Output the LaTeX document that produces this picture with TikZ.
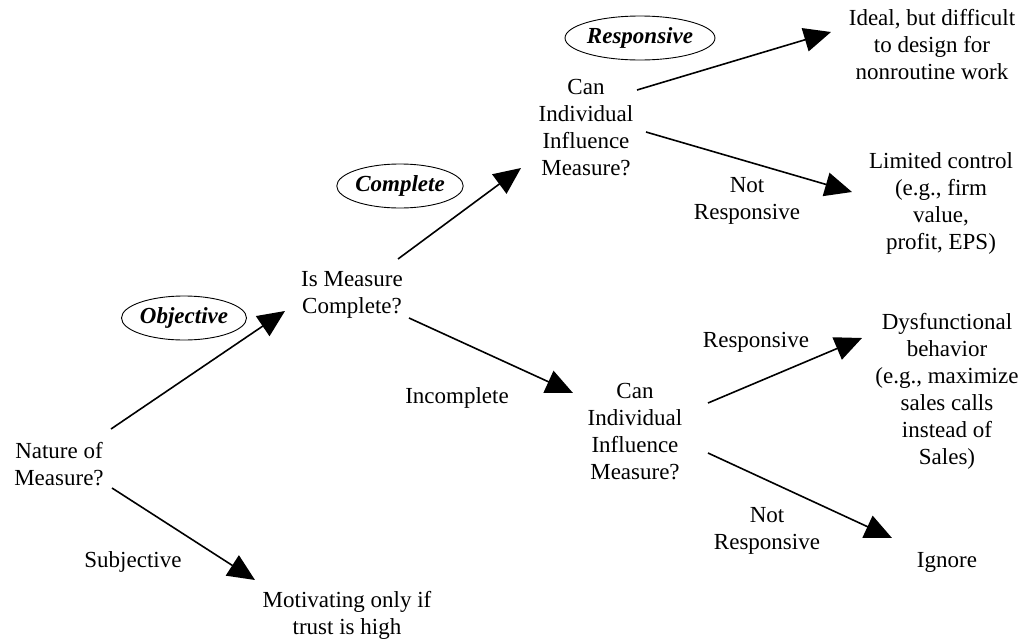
\documentclass[tikz,border=0pt]{standalone}
\usepackage{fontspec}
\setmainfont{Liberation Serif}
\usetikzlibrary{arrows.meta,shapes.geometric}
\begin{document}
\begin{tikzpicture}[x=1pt,y=-1pt,
  txt/.style={align=center, font=\fontsize{23}{27}\selectfont, inner sep=0pt},
  oval/.style={ellipse, draw, line width=0.9pt, inner sep=0pt, minimum height=44pt,
    font=\fontsize{23}{26}\selectfont\bfseries\itshape},
  arr/.style={line width=1.6pt, -{Triangle[length=27pt,width=24pt]}}]
\useasboundingbox[fill=white] (0,0) rectangle (1028,643);

% text nodes
\node[txt] (nature) at (59,464) {Nature of\\Measure?};
\node[txt] (subj) at (133,562) {Subjective};
\node[txt] (motiv) at (347,615) {Motivating only if\\trust is high};
\node[txt] (ismeas) at (352,295) {Is Measure\\Complete?};
\node[txt] (incompl) at (457,398) {Incomplete};
\node[txt] (can1) at (586,128) {Can\\Individual\\Influence\\Measure?};
\node[txt] (can2) at (635,432) {Can\\Individual\\Influence\\Measure?};
\node[txt] (ideal) at (932,45) {Ideal, but difficult\\to design for\\nonroutine work};
\node[txt] (limited) at (941,203) {Limited control\\(e.g., firm\\value,\\profit, EPS)};
\node[txt] (notresp1) at (747,201) {Not\\Responsive};
\node[txt] (resp2) at (756,342) {Responsive};
\node[txt] (dysf) at (947,391) {Dysfunctional\\behavior\\(e.g., maximize\\sales calls\\instead of\\Sales)};
\node[txt] (notresp2) at (767,531) {Not\\Responsive};
\node[txt] (ignore) at (947,562) {Ignore};

% ellipse labels
\node[oval, minimum width=134pt] (oresp) at (640,38) {Responsive};
\node[oval, minimum width=125pt] (ocompl) at (400,186) {Complete};
\node[oval, minimum width=125pt] (oobj) at (184,318) {Objective};

% connector end points
\coordinate (n1) at (111,429);
\coordinate (m1) at (285,311);
\coordinate (n2) at (112,488);
\coordinate (m2) at (255,580);
\coordinate (i1) at (398,259);
\coordinate (c1) at (521,168);
\coordinate (i2) at (409,318);
\coordinate (c2) at (573,393);
\coordinate (k1) at (637,90);
\coordinate (d1) at (831,32);
\coordinate (k2) at (646,132);
\coordinate (d2) at (852,192);
\coordinate (k3) at (708,403);
\coordinate (d3) at (862,338);
\coordinate (k4) at (708,453);
\coordinate (d4) at (892,538);

\draw[arr] (n1) -- (m1);
\draw[arr] (n2) -- (m2);
\draw[arr] (i1) -- (c1);
\draw[arr] (i2) -- (c2);
\draw[arr] (k1) -- (d1);
\draw[arr] (k2) -- (d2);
\draw[arr] (k3) -- (d3);
\draw[arr] (k4) -- (d4);
\end{tikzpicture}
\end{document}
